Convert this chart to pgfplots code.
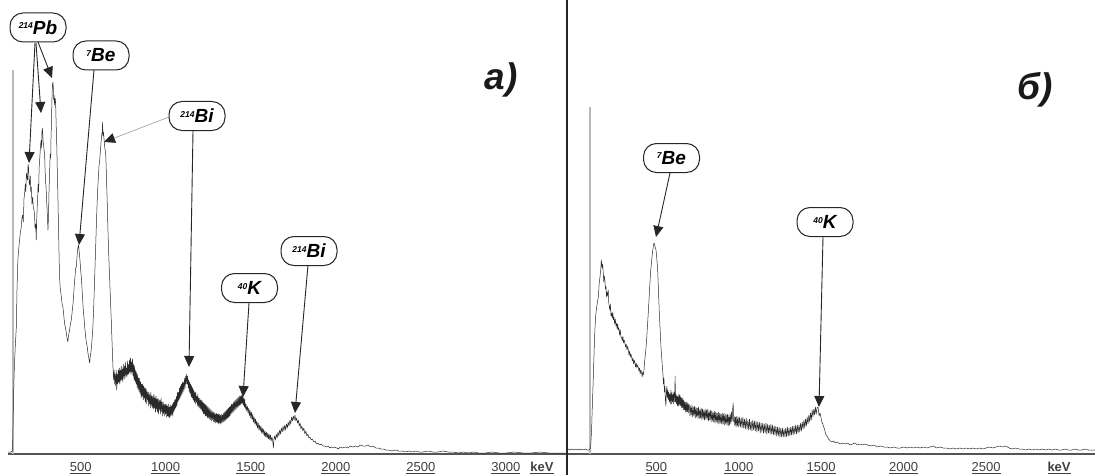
\documentclass[border=0pt]{standalone}
\usepackage{pgfplots}
\pgfplotsset{compat=1.18}
\usepackage{fontspec}
\setmainfont{Liberation Sans}
\usetikzlibrary{arrows.meta}
\definecolor{spec}{HTML}{2A2A2A}
\definecolor{axg}{HTML}{555555}
\newcommand{\lab}[2]{\bfseries\itshape\raisebox{5.5pt}{\fontsize{8.5}{8.5}\selectfont #1}\fontsize{19}{19}\selectfont #2}
\pgfplotstableread{
E c
70 2
90 2
98 3
100 6
103 34
106 61
109 80
112 94
117 112
122 127
126 165
131 194
136 205
141 214
146 222
151 227
155 236
159 239
163 232
167 255
171 261
175 270
178 262
181 281
185 276
188 274
191 290
194 286
197 272
200 269
204 278
207 262
210 267
214 250
218 257
222 246
226 244
229 239
232 226
236 230
239 214
242 235
245 248
247 254
250 270
253 262
256 286
259 294
262 302
265 310
268 314
271 306
273 324
275 326
278 318
280 312
282 309
285 304
288 301
291 284
294 272
297 266
300 254
304 240
308 224
311 238
314 262
318 284
321 300
324 296
326 318
328 327
330 344
332 359
334 368
337 372
340 365
342 354
344 359
347 349
350 356
353 351
356 330
359 314
362 290
366 261
370 226
373 200
376 177
380 166
386 158
391 150
396 147
401 138
406 130
411 126
416 121
420 116
425 112
428 118
431 120
435 124
440 130
445 134
450 142
455 150
459 159
463 170
467 178
471 186
475 187
478 196
482 204
485 207
488 209
491 203
494 198
497 192
501 182
504 177
508 166
512 154
516 143
520 136
524 127
528 120
533 112
538 108
543 101
548 96
553 91
557 98
562 104
567 114
572 127
577 148
582 174
587 200
592 227
596 247
600 264
604 276
608 288
612 294
616 302
620 312
624 319
627 322
629 332
631 318
634 322
638 314
642 306
647 301
650 288
653 269
657 248
660 227
665 200
671 174
675 155
680 134
685 110
690 87
694 74
697 84
700 70
703 80
706 68
709 84
712 64
715 80
718 70
721 84
724 72
727 86
730 70
733 84
736 73
739 88
742 74
745 85
748 72
751 90
754 76
757 88
760 75
763 92
766 78
769 86
772 77
775 93
778 79
781 90
784 80
787 94
790 82
793 96
796 80
799 92
802 82
805 95
808 78
811 90
814 74
817 88
820 72
823 84
826 70
829 82
832 66
835 80
838 64
841 76
844 62
847 76
850 60
853 72
856 56
859 70
862 58
865 70
868 54
871 68
874 56
877 66
880 52
883 66
886 50
889 64
892 54
895 62
898 48
901 62
904 50
907 60
910 46
913 62
916 48
919 58
922 46
925 58
928 45
931 60
934 46
937 56
940 42
943 58
946 45
949 55
952 42
955 56
958 40
961 54
964 44
967 54
970 40
973 56
976 42
979 52
982 38
985 52
988 40
991 50
994 38
997 50
1000 40
1003 50
1006 37
1009 48
1012 38
1015 50
1018 37
1021 47
1024 36
1027 49
1030 38
1033 48
1036 39
1039 50
1042 38
1045 52
1048 42
1051 54
1054 44
1057 55
1060 46
1063 58
1066 48
1069 62
1072 52
1075 62
1078 54
1081 66
1084 56
1087 68
1090 58
1093 70
1096 60
1099 72
1102 62
1105 72
1108 64
1111 76
1114 66
1117 78
1120 70
1123 80
1126 70
1129 78
1132 66
1135 74
1138 62
1141 72
1144 60
1147 70
1150 57
1153 68
1156 56
1159 66
1162 54
1165 64
1168 52
1171 62
1174 50
1177 62
1180 52
1183 58
1186 48
1189 60
1192 47
1195 56
1198 46
1201 56
1204 45
1207 54
1210 44
1213 54
1216 42
1219 52
1222 40
1225 51
1228 40
1231 50
1234 38
1237 49
1240 38
1243 48
1246 36
1249 47
1252 36
1255 46
1258 35
1261 45
1264 34
1267 44
1270 33
1273 43
1276 34
1279 42
1282 32
1285 42
1288 32
1291 40
1294 31
1297 41
1300 32
1303 40
1306 31
1309 40
1312 30
1315 40
1318 31
1321 39
1324 30
1327 40
1330 31
1333 39
1336 32
1339 41
1342 32
1345 42
1348 33
1351 43
1354 34
1357 44
1360 35
1363 45
1366 36
1369 46
1372 37
1375 47
1378 38
1381 48
1384 40
1387 50
1390 41
1393 50
1396 42
1399 52
1402 43
1405 53
1408 44
1411 54
1414 45
1417 55
1420 46
1423 56
1426 47
1429 57
1432 48
1435 58
1438 49
1441 58
1444 50
1447 59
1450 51
1453 58
1456 49
1459 56
1462 47
1465 55
1468 45
1472 50
1476 43
1480 48
1484 41
1488 46
1492 38
1496 44
1500 36
1504 42
1508 34
1512 40
1516 32
1520 37
1524 30
1528 35
1532 28
1536 33
1540 26
1544 31
1548 24
1552 29
1556 23
1560 28
1564 21
1568 26
1572 20
1576 25
1580 18
1584 23
1588 17
1592 22
1596 16
1600 21
1604 15
1608 20
1612 14
1616 19
1620 13
1625 17
1630 12
1633 6
1636 14
1640 18
1645 14
1650 20
1655 16
1660 22
1665 18
1670 24
1675 20
1680 26
1685 22
1690 28
1695 23
1700 29
1705 24
1710 30
1715 26
1720 32
1725 28
1730 34
1735 30
1740 37
1745 33
1750 38
1755 34
1760 39
1765 33
1770 36
1775 31
1780 34
1785 28
1790 31
1795 25
1800 28
1806 23
1812 26
1818 20
1824 23
1830 18
1836 20
1842 16
1848 17
1855 14
1862 15
1870 12
1878 13
1886 10
1895 11
1905 9
1915 10
1925 8
1935 8
1945 7
1955 8
1965 6
1975 7
1985 6
1995 7
2005 6
2015 5
2025 7
2040 6
2055 7
2070 6
2085 8
2100 7
2115 8
2130 7
2145 9
2160 8
2175 8
2190 9
2205 7
2220 8
2235 6
2250 6
2265 5
2280 5
2295 4
2310 4
2330 3
2350 4
2370 3
2390 3
2410 2
2430 3
2450 2
2470 3
2490 2
2510 2
2540 3
2570 2
2600 2
2630 3
2660 2
2690 2
2720 1
2750 2
2780 1
2810 2
2840 1
2880 1
2920 2
2960 1
3000 1
3050 2
3100 1
3150 1
3200 2
3250 1
3300 1
3350 1
}\specA
\pgfplotstableread{
E c
-42 4
-30 5
-20 4
-10 5
0 4
10 5
20 4
30 5
40 4
50 5
60 4
70 5
80 4
90 4
97 5
101 6
104 15
107 24
112 50
117 74
122 100
127 124
132 138
138 147
143 152
148 157
153 170
158 177
163 185
166 194
168 191
171 186
174 190
178 181
181 172
184 178
188 174
191 165
194 168
198 157
201 162
205 158
208 164
211 152
214 148
218 144
221 150
225 138
229 141
232 136
236 142
239 134
243 137
247 130
251 135
255 128
259 131
262 125
266 130
269 124
273 126
277 119
281 124
285 117
289 117
293 113
297 118
301 111
305 114
309 111
313 107
317 110
322 104
326 108
330 104
334 99
338 103
342 97
346 100
350 97
354 93
358 96
362 90
366 94
370 91
374 87
378 91
382 86
386 89
390 87
394 83
398 86
402 80
406 84
411 81
414 77
417 82
421 79
425 84
428 91
431 96
436 104
441 114
446 128
451 141
456 156
461 171
466 184
472 194
476 201
481 207
484 210
487 211
490 209
494 206
498 204
503 195
508 184
513 163
518 141
523 124
528 107
533 95
538 84
540 80
543 70
546 76
549 62
552 68
555 54
558 48
561 62
564 68
567 56
570 64
573 54
576 62
579 52
582 60
585 50
588 64
591 50
594 62
597 52
600 60
603 50
606 62
609 52
612 64
614 78
616 52
619 60
622 50
625 58
628 48
631 58
634 48
637 60
640 49
643 59
646 48
649 57
652 46
655 56
658 46
661 56
664 44
667 54
670 44
673 52
676 42
679 52
682 42
685 52
688 42
691 51
694 41
697 50
700 49
704 38
708 48
712 39
716 49
720 37
724 47
728 38
732 48
736 36
740 47
744 37
748 46
752 36
756 47
760 35
764 45
768 36
772 46
776 34
780 45
784 35
788 44
792 34
796 45
800 35
804 44
808 34
812 45
816 33
820 43
824 34
828 44
832 32
836 43
840 33
844 42
848 32
852 43
856 31
860 42
864 32
868 41
872 31
876 42
880 30
884 41
888 31
892 40
896 30
900 41
904 30
908 40
912 29
916 41
920 30
924 39
928 29
932 40
936 28
940 39
944 29
948 40
952 30
956 42
960 33
963 45
966 51
969 32
972 38
976 28
980 37
984 27
988 38
992 28
996 37
1000 27
1005 37
1010 27
1015 36
1020 26
1025 37
1030 26
1035 35
1040 25
1045 36
1050 25
1055 34
1060 24
1065 35
1070 24
1075 33
1080 23
1085 34
1090 24
1095 33
1100 23
1105 33
1110 22
1115 32
1120 23
1125 32
1130 21
1135 31
1140 22
1145 31
1150 21
1155 30
1160 21
1165 31
1170 20
1175 30
1180 21
1185 29
1190 20
1195 30
1200 20
1205 29
1210 19
1215 28
1220 19
1225 28
1230 18
1235 27
1240 18
1245 27
1250 17
1255 26
1260 17
1265 26
1270 17
1275 25
1280 17
1285 26
1290 17
1295 27
1300 18
1305 26
1310 18
1315 27
1320 19
1325 28
1330 19
1335 28
1340 20
1345 29
1350 20
1355 29
1360 21
1365 29
1370 22
1375 31
1380 23
1385 32
1390 25
1395 34
1400 26
1405 35
1410 28
1415 37
1420 30
1425 39
1430 32
1435 41
1440 34
1445 44
1450 37
1455 45
1460 39
1465 47
1470 40
1475 46
1481 47
1487 38
1493 41
1498 37
1504 32
1510 30
1515 27
1520 25
1527 20
1535 18
1545 15
1555 13
1565 12
1575 13
1585 11
1595 12
1605 11
1615 10
1630 11
1645 10
1660 11
1675 9
1690 10
1705 11
1720 9
1735 10
1750 9
1765 10
1780 9
1800 8
1820 9
1840 7
1860 8
1880 7
1900 7
1920 6
1940 7
1960 6
1980 6
2000 7
2020 6
2040 7
2060 6
2080 7
2100 6
2120 7
2140 6
2160 7
2180 8
2200 6
2220 7
2240 6
2260 6
2280 5
2300 6
2320 5
2340 6
2360 5
2380 6
2400 5
2420 6
2440 5
2460 6
2480 5
2500 6
2520 7
2540 6
2560 7
2580 8
2600 7
2620 8
2640 6
2660 5
2680 6
2700 5
2720 5
2740 4
2760 5
2780 4
2800 5
2820 4
2840 5
2860 4
2880 5
2900 4
2920 5
2940 4
2960 4
2980 5
3000 4
3020 4
3040 5
3060 4
3080 4
3100 5
3120 4
3140 4
3160 4
}\specB
\pgfplotsset{specax/.style={
  scale only axis, height=454pt, ymin=0, ymax=454,
  axis y line=none, axis x line*=bottom,
  x axis line style={draw=axg, line width=1.3pt, -},
  major tick length=0pt,
  tick label style={font=\fontsize{13}{13}\selectfont, text=black!75},
  xticklabel style={yshift=-5pt},
  anchor=south west,
}}
\begin{document}
\begin{tikzpicture}[x=1pt,y=1pt]
\path[use as bounding box] (0pt,0pt) rectangle (1095pt,475pt);
\begin{axis}[specax, at={(8pt,21pt)}, width=559pt, xmin=73, xmax=3359,
  xtick={500,1000,1500,2000,2500,3000},
  xticklabels={\underline{500},\underline{1000},\underline{1500},\underline{2000},\underline{2500},\underline{3000}},
  extra x ticks={3212}, extra x tick labels={\textbf{\underline{keV}}},
  extra x tick style={major tick length=0pt}]
\addplot[gray!55, line width=1.2pt] coordinates {(102,0) (102,384)};
\addplot[spec, line width=0.5pt, line join=round, no marks] table[x=E,y=c] {\specA};
\end{axis}
\begin{axis}[specax, at={(567pt,21pt)}, width=528pt, xmin=-42, xmax=3161,
  xtick={500,1000,1500,2000,2500},
  xticklabels={\underline{500},\underline{1000},\underline{1500},\underline{2000},\underline{2500}},
  extra x ticks={2943}, extra x tick labels={\textbf{\underline{keV}}},
  extra x tick style={major tick length=0pt}]
\addplot[gray!55, line width=1.2pt] coordinates {(97,0) (97,347)};
\addplot[spec, line width=0.5pt, line join=round, no marks] table[x=E,y=c] {\specB};
\end{axis}
% divider
\draw[black!85, line width=1.2pt] (567,0) -- (567,475);
% labels
\tikzset{bx/.style={draw=black!85, line width=1pt, rounded corners=13pt, minimum width=56pt, minimum height=29pt, inner sep=0pt, fill=white},
  ar/.style={black!85, line width=0.9pt, -{Triangle[width=10pt,length=11pt]}}}
\draw[ar] (35,432) -- (29,312);
\draw[ar] (36,432) -- (41,362);
\draw[ar] (38,433) -- (52,397);
\node[bx] at (38,447.5) {\lab{214}{Pb}};
\draw[ar] (94,405) -- (79,230);
\node[bx] at (101,419.5) {\lab{7}{Be}};
\draw[gray!70, line width=0.7pt, -{Triangle[width=10pt,length=11pt,black!85]}] (169,358) -- (104,333);
\draw[ar] (193,344) -- (189,108);
\node[bx] at (197,359) {\lab{214}{Bi}};
\draw[ar] (249,172) -- (243,78);
\node[bx] at (249.5,187) {\lab{40}{K}};
\draw[ar] (308,210) -- (295,62);
\node[bx] at (309,224) {\lab{214}{Bi}};
\draw[ar] (670,302) -- (656,238);
\node[bx] at (671.5,317) {\lab{7}{Be}};
\draw[ar] (823,238) -- (819,68);
\node[bx] at (825,253) {\lab{40}{K}};
\node[font=\fontsize{37}{37}\selectfont\bfseries\itshape, text=black!90] at (501,395) {a)};
\node[font=\fontsize{37}{37}\selectfont\bfseries\itshape, text=black!90] at (1035,385) {б)};
\end{tikzpicture}
\end{document}
